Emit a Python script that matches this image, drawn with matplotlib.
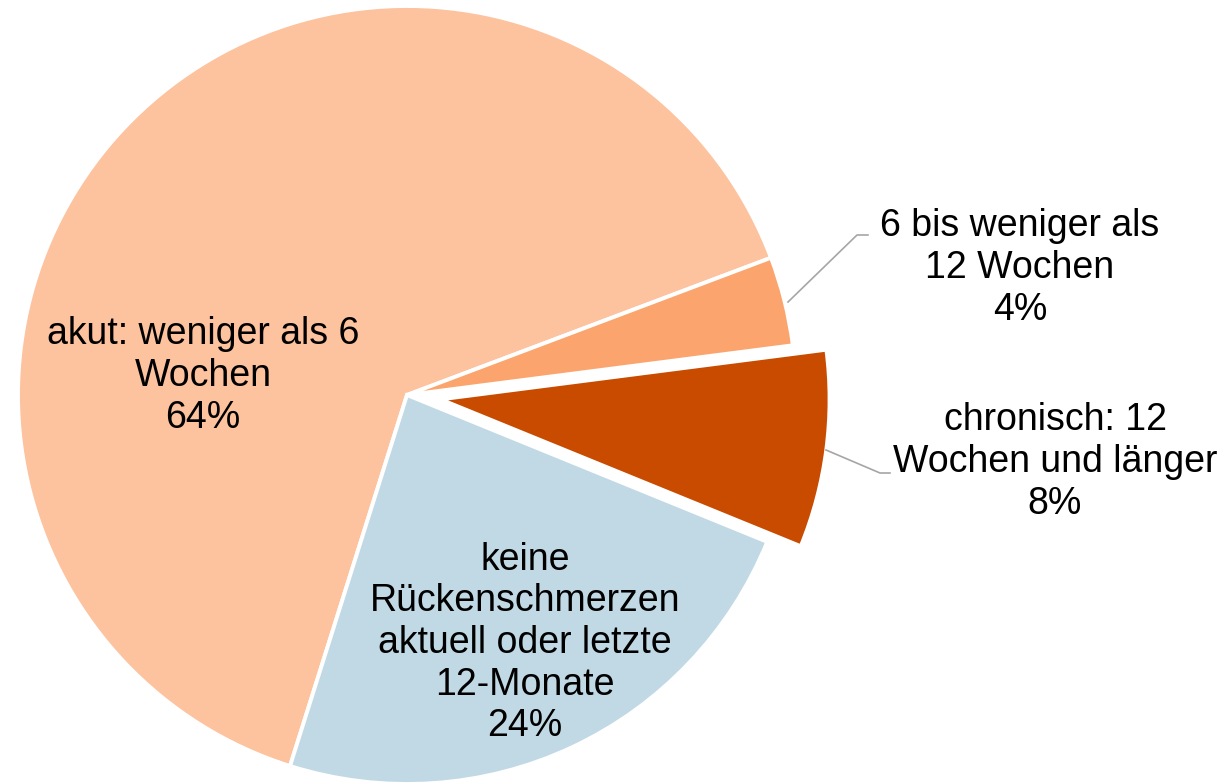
import matplotlib
matplotlib.use("Agg")
import matplotlib.pyplot as plt

labels = ["akut: weniger als 6\nWochen", "6 bis weniger als\n12 Wochen",
          "chronisch: 12\nWochen und länger", "keine\nRückenschmerzen\naktuell oder letzte\n12-Monate"]
values = [64.4, 3.7, 8.2, 23.7]
colors = ["#FDC29E", "#FCA46D", "#C84B00", "#C0D9E5"]
explode_frac = [0, 0, 0.087, 0]

plt.rcParams['font.family'] = ['Liberation Sans', 'DejaVu Sans']

fig = plt.figure(figsize=(12.31, 7.83), dpi=100)
ax = fig.add_axes([0, 0, 1, 1])

cx, cy, R = 407, 783 - 395, 389
wedges, _ = ax.pie(values, colors=colors, explode=[e * R for e in explode_frac],
                   startangle=252.5, counterclock=False, center=(cx, cy), radius=R,
                   frame=True, wedgeprops=dict(edgecolor='white', linewidth=2.8))
ax.set_xlim(0, 1231)
ax.set_ylim(0, 783)
ax.set_aspect('equal')
ax.axis('off')

fs = 27
ls = 1.2
texts = [f"{l}\n{round(v)}%" for l, v in zip(labels, values)]
# inside labels
ax.text(203, 783 - 376, texts[0], ha='center', va='center', fontsize=fs, linespacing=ls)
ax.text(525, 783 - 643, texts[3], ha='center', va='center', fontsize=fs, linespacing=ls)
# outside labels
ax.text(1020, 783 - 268, texts[1], ha='center', va='center', fontsize=fs, linespacing=ls)
ax.text(1055, 783 - 462, texts[2], ha='center', va='center', fontsize=fs, linespacing=ls)
# leader lines
ax.plot([788, 857, 868], [783 - 302, 783 - 235, 783 - 235], color='#A6A6A6', lw=1.2)
ax.plot([826, 880, 890], [783 - 450, 783 - 473, 783 - 473], color='#A6A6A6', lw=1.2)

fig.savefig("out.png", dpi=100)
